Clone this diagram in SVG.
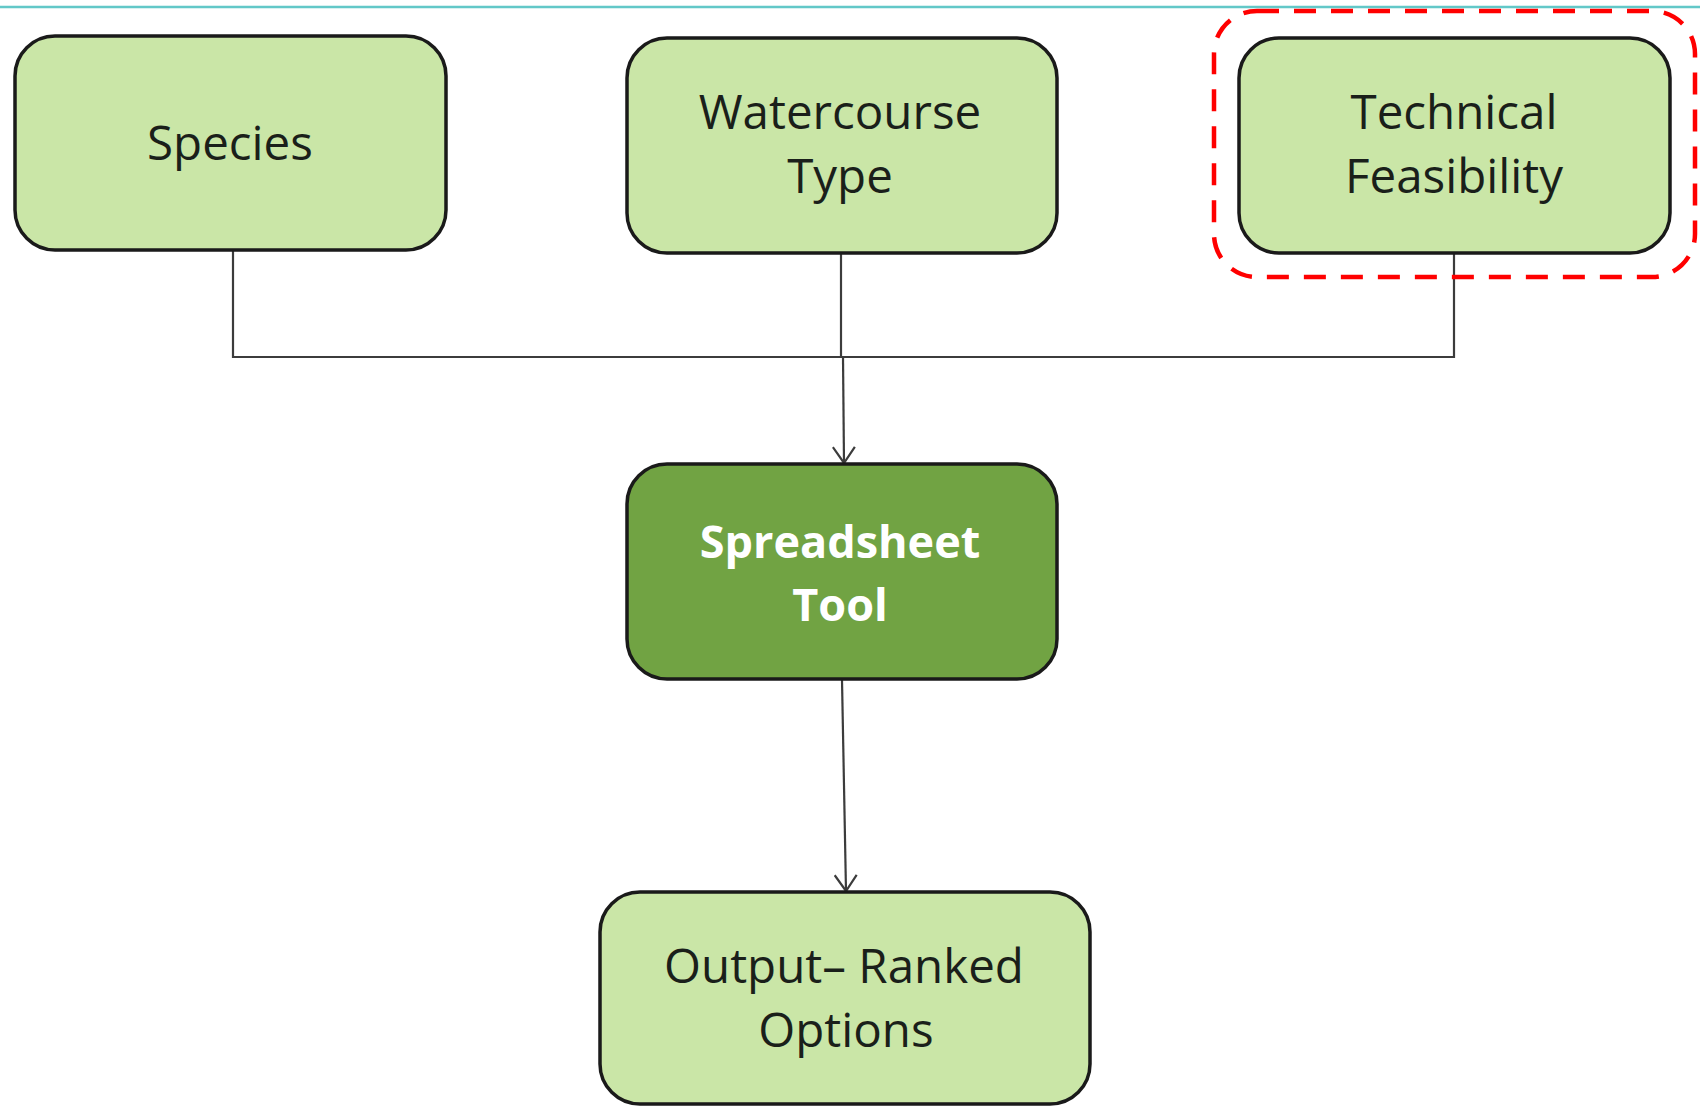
<svg xmlns="http://www.w3.org/2000/svg" width="1700" height="1106" viewBox="0 0 1700 1106">
  <style>
    .box { fill: #cae6a7; stroke: #1a1a1a; stroke-width: 3.5; }
    .box-dark { fill: #71a343; stroke: #1a1a1a; stroke-width: 3.5; }
    .lbl { font-family: "Open Sans", "Liberation Sans", sans-serif; font-size: 47.5px; fill: #1a1f1a; text-anchor: middle; }
    .lbl-bold { font-family: "Open Sans", "Liberation Sans", sans-serif; font-size: 45px; font-weight: bold; fill: #ffffff; text-anchor: middle; }
    .wire { fill: none; stroke: #3c3c3c; stroke-width: 2.2; }
    .focus { fill: none; stroke: #ff0000; stroke-width: 4.5; stroke-dasharray: 22 15; }
  </style>
  <defs>
    <!-- open chevron head; marker +x follows the line direction -->
    <marker id="vee" viewBox="0 0 20 24" refX="18" refY="12" markerWidth="20" markerHeight="24" markerUnits="userSpaceOnUse" orient="auto">
      <path d="M2 1 L18 12 L2 23" fill="none" stroke="#3c3c3c" stroke-width="2.2"/>
    </marker>
  </defs>

  <rect width="1700" height="1106" fill="#ffffff"/>
  <!-- top rule -->
  <line x1="0" y1="7" x2="1700" y2="7" stroke="#62c8c8" stroke-width="2.5"/>

  <!-- connectors -->
  <g id="connectors">
    <polyline class="wire" points="233,250 233,357 1454,357 1454,253"/>
    <line class="wire" x1="841" y1="253" x2="841" y2="357"/>
    <line class="wire" x1="843" y1="357" x2="844" y2="463" marker-end="url(#vee)"/>
    <line class="wire" x1="842" y1="680" x2="846" y2="891" marker-end="url(#vee)"/>
  </g>

  <g id="species">
    <rect class="box" x="15" y="36" width="431" height="214" rx="40"/>
    <text class="lbl" x="230" y="160">Species</text>
  </g>

  <g id="watercourse-type">
    <rect class="box" x="627" y="38" width="430" height="215" rx="40"/>
    <text class="lbl" x="840" y="129">Watercourse</text>
    <text class="lbl" x="840" y="193">Type</text>
  </g>

  <g id="technical-feasibility">
    <rect class="box" x="1239" y="38" width="431" height="215" rx="40"/>
    <text class="lbl" x="1454" y="129">Technical</text>
    <text class="lbl" x="1454" y="193">Feasibility</text>
  </g>

  <!-- highlight around technical feasibility -->
  <rect id="highlight" class="focus" x="1214" y="11" width="481" height="266" rx="43"/>

  <g id="spreadsheet-tool">
    <rect class="box-dark" x="627" y="464" width="430" height="215" rx="40"/>
    <text class="lbl-bold" x="840" y="558">Spreadsheet</text>
    <text class="lbl-bold" x="840" y="621">Tool</text>
  </g>

  <g id="output-ranked-options">
    <rect class="box" x="600" y="892" width="490" height="212" rx="40"/>
    <text class="lbl" x="844" y="983">Output– Ranked</text>
    <text class="lbl" x="846" y="1047">Options</text>
  </g>
</svg>
